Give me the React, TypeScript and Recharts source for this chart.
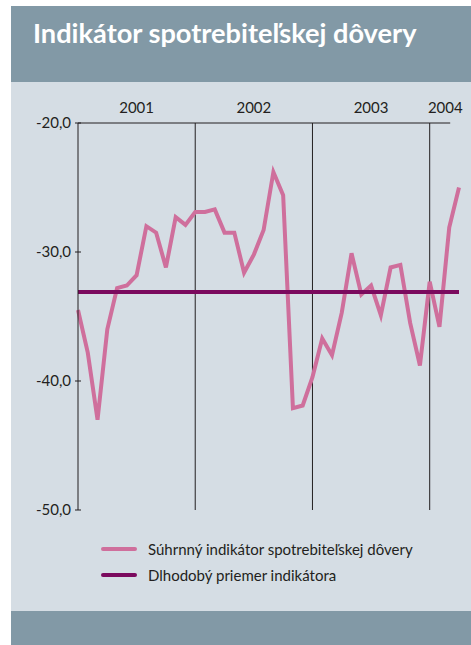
import { LineChart, Line, XAxis, YAxis, ReferenceLine } from 'recharts'

// mesačné hodnoty jan 2001 – apr 2004
const months = [
  '01/01', '02/01', '03/01', '04/01', '05/01', '06/01', '07/01', '08/01', '09/01', '10/01', '11/01', '12/01',
  '01/02', '02/02', '03/02', '04/02', '05/02', '06/02', '07/02', '08/02', '09/02', '10/02', '11/02', '12/02',
  '01/03', '02/03', '03/03', '04/03', '05/03', '06/03', '07/03', '08/03', '09/03', '10/03', '11/03', '12/03',
  '01/04', '02/04', '03/04', '04/04'
]
const indicator = [
  -34.5, -37.8, -43.0, -36.0, -32.8, -32.6, -31.8, -28.0, -28.5, -31.2, -27.3, -27.9,
  -26.9, -26.9, -26.7, -28.5, -28.5, -31.6, -30.2, -28.3, -23.8, -25.6, -42.1, -41.9,
  -39.7, -36.7, -38.0, -34.7, -30.1, -33.3, -32.6, -34.9, -31.2, -31.0, -35.5, -38.8,
  -32.3, -35.8, -28.1, -25.0
]
const longTermAvg = -33.1

const yearLabels = ['2001', '2002', '2003', '2004']
const yearCenters = [6, 18, 30, 37.6]
const yearBounds = [12, 24, 36]
const yTicks = [-50, -40, -30, -20]
const topBorderEnd = 38.1

const seriesNames = ['Súhrnný indikátor spotrebiteľskej dôvery', 'Dlhodobý priemer indikátora']
const PINK = '#cf6f9c'
const PURPLE = '#7b0a5e'
const seriesColors = [PINK, PURPLE]

const data = months.map((m, i) => ({ i, month: m, value: indicator[i], avg: longTermAvg }))

const FONT = 'Lato, "Open Sans", sans-serif'
const TEXT = '#231f20'

function YTick({ x, y, payload }: any) {
  return (
    <g>
      <line x1={x - 3} x2={x + 3} y1={y} y2={y} stroke={TEXT} strokeWidth={1} />
      <text x={x - 7} y={y + 5} textAnchor="end" fontSize={15} fill={TEXT} fontFamily={FONT}>
        {payload.value.toFixed(1).replace('.', ',')}
      </text>
    </g>
  )
}

export default function App() {
  return (
    <div style={{ position: 'absolute', left: 0, top: 0, width: 471, height: 645, background: '#fff', overflow: 'hidden' }}>
      <div style={{ position: 'absolute', left: 11, top: 6, width: 460, height: 76, background: '#8299a6' }}>
        <div style={{ position: 'absolute', left: 22, top: 10, color: '#fff', fontFamily: FONT, fontWeight: 700, fontSize: 27.2, whiteSpace: 'nowrap' }}>
          Indikátor spotrebiteľskej dôvery
        </div>
      </div>
      <div style={{ position: 'absolute', left: 11, top: 82, width: 460, height: 529, background: '#d5dde4' }} />
      <div style={{ position: 'absolute', left: 11, top: 611, width: 460, height: 34, background: '#8299a6' }} />
      <div style={{ position: 'absolute', left: 0, top: 82 }}>
        <LineChart width={471} height={529} data={data} margin={{ top: 0, right: 12, left: 0, bottom: 101 }}>
          <XAxis
            xAxisId="top"
            orientation="top"
            dataKey="i"
            type="number"
            domain={[0, 39]}
            ticks={yearCenters}
            tickFormatter={(v: number) => yearLabels[yearCenters.indexOf(v)]}
            axisLine={false}
            tickLine={false}
            tickSize={0}
            tickMargin={10}
            height={41}
            interval={0}
            tick={{ fontSize: 15, fill: TEXT, fontFamily: FONT }}
          />
          <YAxis
            domain={[-50, -20]}
            ticks={yTicks}
            width={78}
            axisLine={{ stroke: TEXT, strokeWidth: 1 }}
            tickLine={false}
            tickSize={0}
            tickMargin={0}
            tick={<YTick />}
            allowDataOverflow
          />
          {yearBounds.map((b) => (
            <ReferenceLine key={b} xAxisId="top" x={b} stroke={TEXT} strokeWidth={1} />
          ))}
          <ReferenceLine
            xAxisId="top"
            segment={[{ x: 0, y: -20 }, { x: topBorderEnd, y: -20 }]}
            stroke={TEXT}
            strokeWidth={1}
            ifOverflow="visible"
          />
          <Line
            xAxisId="top"
            type="linear"
            dataKey="value"
            name={seriesNames[0]}
            stroke={PINK}
            strokeWidth={4}
            dot={false}
            strokeLinejoin="miter"
            isAnimationActive={false}
          />
          <Line
            xAxisId="top"
            type="linear"
            dataKey="avg"
            name={seriesNames[1]}
            stroke={PURPLE}
            strokeWidth={4}
            dot={false}
            isAnimationActive={false}
          />
        </LineChart>
      </div>
      <div style={{ position: 'absolute', left: 101, top: 536, fontFamily: FONT, fontSize: 15, color: TEXT }}>
        {seriesNames.map((name, k) => (
          <div key={name} style={{ display: 'flex', alignItems: 'center', height: 26 }}>
            <div style={{ width: 36, height: 4, borderRadius: 2, background: seriesColors[k], marginRight: 11 }} />
            <span>{name}</span>
          </div>
        ))}
      </div>
    </div>
  )
}
